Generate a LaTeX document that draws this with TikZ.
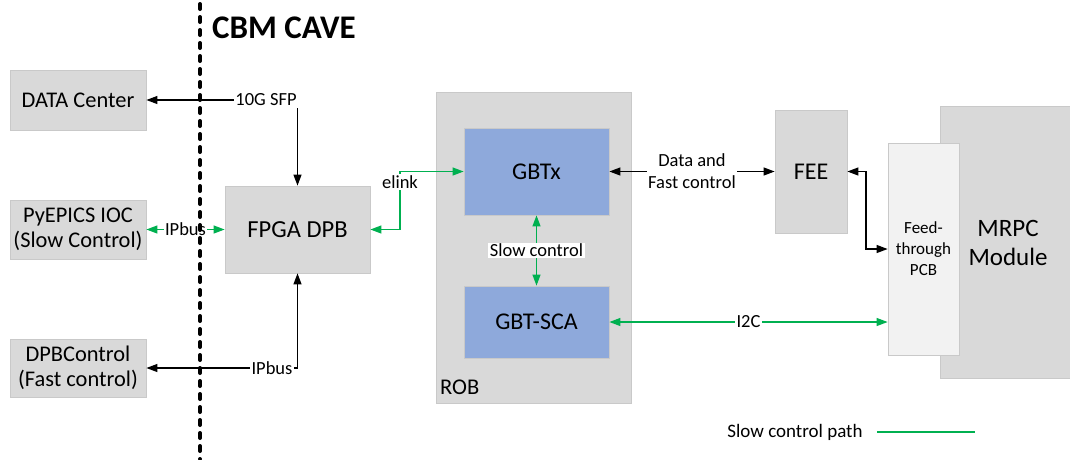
\documentclass[tikz,border=0pt]{standalone}
\usepackage{fontspec}
\setmainfont{Carlito}
\usetikzlibrary{arrows.meta}
\definecolor{boxgray}{HTML}{D9D9D9}
\definecolor{boxline}{HTML}{C9C9C9}
\definecolor{chipblue}{HTML}{8EA9DB}
\definecolor{pcbfill}{HTML}{F2F2F2}
\definecolor{sgreen}{HTML}{00B050}
\tikzset{
  box/.style={draw=boxline, fill=boxgray, line width=0.8pt, inner sep=0pt, align=center, font=\fontsize{22.4}{25}\selectfont},
  chip/.style={draw=boxline, fill=chipblue, line width=0.8pt, inner sep=0pt, align=center, font=\fontsize{24}{28}\selectfont},
  conn/.style={line width=1.2pt, {Triangle[length=11pt,width=8pt]}-{Triangle[length=11pt,width=8pt]}},
  blk/.style={conn, black},
  grn/.style={conn, sgreen},
  lab/.style={fill=white, text=black, inner sep=1.5pt, align=center, font=\fontsize{18.5}{21}\selectfont},
}
\begin{document}
\begin{tikzpicture}[x=1pt,y=-1pt]
\useasboundingbox (0,0) rectangle (1070,459);
% boxes
\node[box, minimum width=136pt, minimum height=60pt] (dc) at (78,100) {DATA Center};
\node[box, minimum width=136pt, minimum height=59pt] (py) at (78,229.5) {PyEPICS IOC\\(Slow Control)};
\node[box, minimum width=136pt, minimum height=58pt] (dpbc) at (78,368) {DPBControl\\(Fast control)};
\node[box, minimum width=145pt, minimum height=87pt, font=\fontsize{24.5}{28}\selectfont] (fpga) at (297.5,229.5) {FPGA DPB};
\node[box, minimum width=195pt, minimum height=311pt] (rob) at (533.5,247.5) {};
\node[anchor=south west, inner sep=0pt, font=\fontsize{22.5}{24}\selectfont] (roblab) at (440,395) {ROB};
\node[chip, minimum width=145pt, minimum height=87pt] (gbtx) at (536.5,171.5) {GBTx};
\node[chip, minimum width=145pt, minimum height=72pt] (sca) at (536.5,322) {GBT-SCA};
\node[box, minimum width=72pt, minimum height=123pt, font=\fontsize{24}{28}\selectfont] (fee) at (811,171.5) {FEE};
\node[box, minimum width=130pt, minimum height=272pt] (mrpc) at (1005,242) {};
\node[align=center, inner sep=0pt, font=\fontsize{25}{29}\selectfont] (mrpclab) at (1008,243) {MRPC\\Module};
\node[draw=boxline, fill=pcbfill, line width=0.8pt, minimum width=71pt, minimum height=212pt, inner sep=0pt, align=center, font=\fontsize{17}{21}\selectfont] (ft) at (923.5,249) {Feed-\\through\\PCB};
\node[font=\bfseries\fontsize{33}{36}\selectfont, inner sep=0pt] (cave) at (284,28) {CBM CAVE};
% connectors
\draw[blk] (dc.east) -| (fpga.north);
\node[lab] (l10g) at (266,100) {10G SFP};
\draw[grn] (py.east) -- (fpga.west) node[midway, lab] (lip1) {IPbus};
\draw[blk] (dpbc.east) -| (fpga.south);
\node[lab] (lip2) at (272,368) {IPbus};
\coordinate (ek) at (400,200);
\draw[grn] (fpga.east) -| (ek) |- (gbtx.west);
\node[lab] (lelink) at (400,182) {elink};
\draw[grn] (gbtx.south) -- (sca.north) node[midway, lab] (lslow) {Slow control};
\draw[blk] (gbtx.east) -- (fee.west) node[midway, lab, font=\fontsize{18.5}{22}\selectfont] (ldata) {Data and\\Fast control};
\coordinate (fc) at (866,210);
\draw[blk] (fee.east) -| (fc) |- (ft.west);
\draw[grn] (sca.east) -- (ft.west |- sca.east) node[midway, lab] (li2c) {I2C};
% legend
\node[font=\fontsize{19}{22}\selectfont, inner sep=0pt] (leg) at (795,432) {Slow control path};
\coordinate (lg1) at (877,432);
\coordinate (lg2) at (975,432);
\draw[sgreen, line width=1.2pt] (lg1) -- (lg2);
% boundary
\coordinate (b1) at (200,4);
\coordinate (b2) at (200,459);
\draw[line width=4pt, line cap=round, dash pattern=on 5pt off 8pt] (b1) -- (b2);
\end{tikzpicture}
\end{document}
